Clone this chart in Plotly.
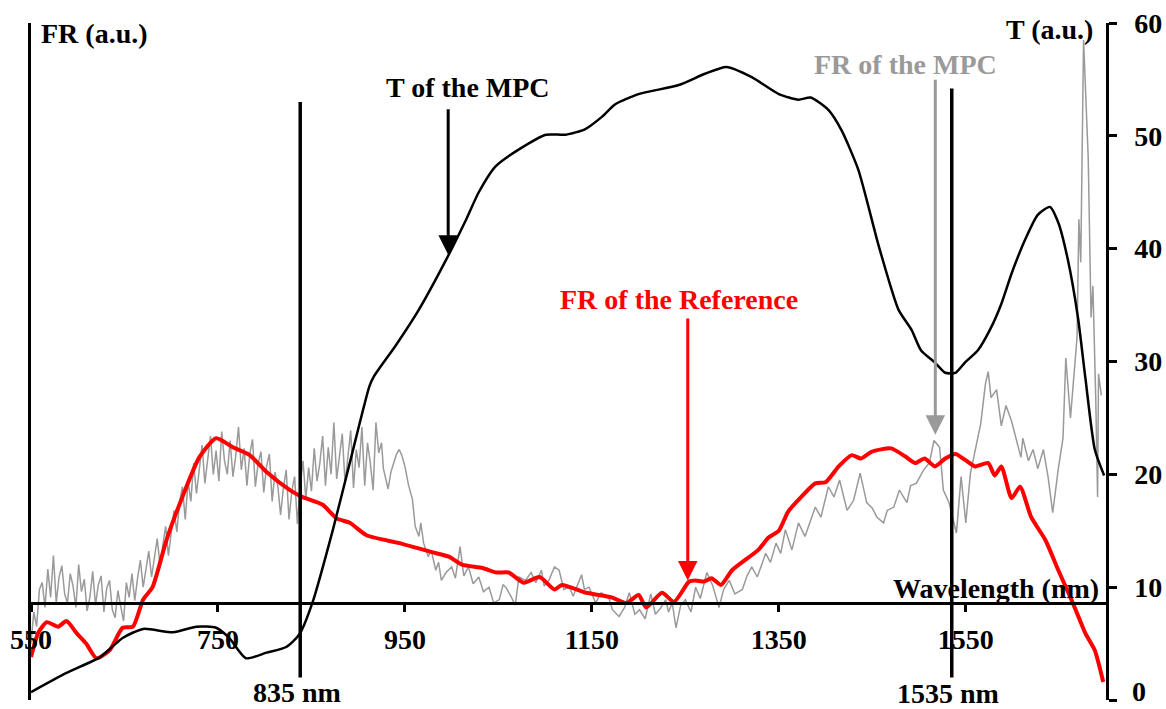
import numpy as np
import plotly.graph_objects as go

# ---------------- data ----------------
# Transmission of the MPC (T, right axis)
t_wl = [550, 588, 624, 648, 670, 702, 727, 748, 762, 780, 802, 823, 837, 851, 873, 891,
        912, 917, 940, 965, 994, 1015, 1029, 1047, 1072, 1101, 1122, 1143, 1161, 1175,
        1200, 1243, 1271, 1294, 1321, 1350, 1371, 1384, 1403, 1417, 1435, 1457, 1478,
        1492, 1502, 1517, 1528, 1539, 1549, 1563, 1577, 1588, 1599, 1614, 1627, 1640,
        1649, 1659, 1670, 1678, 1688, 1698]
t_val = [0.7, 2.4, 3.8, 5.5, 6.3, 6.0, 6.5, 6.4, 5.5, 3.7, 4.2, 4.7, 5.8, 8.6, 15.1, 21.0,
         27.8, 28.7, 31.4, 34.6, 39.0, 42.5, 45.0, 47.3, 48.8, 50.1, 50.1, 50.6, 51.7, 52.8,
         53.7, 54.5, 55.5, 56.1, 55.2, 53.7, 53.2, 53.4, 52.3, 50.5, 47.0, 40.2, 34.6,
         32.8, 31.0, 29.9, 29.0, 29.0, 29.9, 31.0, 33.0, 35.1, 37.8, 40.9, 43.0, 43.7,
         42.3, 39.1, 33.9, 28.5, 22.2, 19.9]

# FR of the reference (red)
ref_wl = [550, 558, 567, 579, 588, 599, 609, 620, 634, 648, 659, 670, 680, 695, 712, 730,
          748, 766, 784, 802, 827, 840, 862, 877, 891, 909, 944, 979, 997, 1011, 1033,
          1048, 1061, 1077, 1094, 1110, 1118, 1144, 1171, 1187, 1200, 1208, 1225, 1238,
          1254, 1261, 1270, 1278, 1288, 1300, 1328, 1339, 1350, 1360, 1374, 1389, 1400,
          1414, 1428, 1438, 1449, 1470, 1485, 1496, 1506, 1517, 1528, 1539, 1549, 1560,
          1574, 1581, 1588, 1599, 1608, 1620, 1635, 1649, 1663, 1678, 1688, 1697]
ref_val = [3.8, 6.0, 6.9, 6.5, 7.0, 5.9, 5.0, 3.7, 4.4, 6.4, 6.5, 8.9, 10.0, 14.2, 18.0, 21.5,
           23.2, 22.4, 21.7, 20.2, 18.6, 18.0, 17.3, 16.1, 15.7, 14.6, 13.9, 13.1, 12.7, 12.0, 11.7,
           11.3, 11.3, 10.4, 10.9, 9.8, 10.2, 9.5, 9.1, 8.6, 9.3, 8.2, 9.5, 8.7,
           10.5, 10.6, 10.5, 10.8, 10.2, 11.5, 13.3, 14.4, 15.0, 16.7, 18.0, 19.2, 19.3,
           20.7, 21.7, 21.4, 22.0, 22.3, 21.6, 21.0, 21.4, 20.7, 21.4, 21.8, 21.3, 20.7,
           21.0, 19.9, 20.7, 17.9, 18.9, 16.2, 14.2, 11.5, 8.9, 5.9, 4.4, 1.6]

# FR of the MPC (grey, noisy) - dense part sampled every 3 nm from 550 to 919 nm
mpc_dense_wl = list(np.arange(550, 920, 3))
mpc_dense_val = [
    5.0, 7.8, 6.5, 9.8, 10.4, 8.2, 11.6, 9.1, 12.8, 8.6, 10.9,
    11.9, 9.4, 8.6, 11.2, 10.1, 8.2, 12.0, 9.6, 10.7, 7.9, 9.1, 11.4, 8.4, 10.2, 11.0, 7.8, 9.9, 10.6, 8.0, 7.3,
    9.7, 8.3, 7.0, 10.4, 9.1, 11.2, 8.8, 10.8, 12.4, 10.0, 11.6, 13.2, 10.9, 12.5, 14.3, 12.0, 13.6, 15.4, 12.8, 14.6,
    16.8, 14.9, 17.6, 18.9, 16.0, 19.4, 17.6, 21.0, 18.3, 20.4, 22.6, 19.2, 21.5, 23.4, 20.0, 22.1, 19.4, 23.8, 21.2, 20.0,
    23.0, 19.8, 21.6, 24.2, 20.4, 22.3, 19.0, 21.8, 23.1, 18.9, 21.0, 22.0, 18.4, 20.7, 21.8, 17.6, 20.2, 19.0, 16.4, 18.8,
    20.4, 16.0, 18.5, 19.8, 15.6, 19.0, 21.2, 17.8, 20.6, 18.5, 22.3, 19.4, 21.0, 23.4, 19.0, 22.4, 20.0, 24.6, 19.6, 21.8,
    23.6, 19.2, 21.4, 23.9, 18.8, 22.2, 20.6, 24.2, 19.0, 22.8, 21.0, 18.6, 24.6]
mpc_tail_wl = [922, 925, 927, 932, 935, 938, 941, 944, 947, 950, 954, 958, 961, 965, 967, 970, 975, 978,
               983, 986, 989, 994, 1000, 1004, 1009, 1013, 1018, 1023, 1029, 1034, 1040, 1045, 1051,
               1055, 1058, 1064, 1068, 1072, 1079, 1085, 1090, 1096, 1099, 1104, 1110, 1115, 1120,
               1126, 1130, 1139, 1142, 1147, 1154, 1160, 1168, 1172, 1179, 1185, 1190, 1196, 1201,
               1207, 1213, 1218, 1224, 1229, 1232, 1236, 1240, 1245, 1250, 1256, 1261, 1266, 1273,
               1279, 1286, 1291, 1297, 1303, 1311, 1316, 1321, 1327, 1336, 1341, 1347, 1352, 1357,
               1364, 1371, 1378, 1389, 1395, 1403, 1409, 1415, 1423, 1430, 1437, 1444, 1450, 1455,
               1462, 1466, 1473, 1479, 1487, 1491, 1497, 1505, 1511, 1516, 1522, 1526, 1532, 1540,
               1545, 1550, 1555, 1561, 1566, 1571, 1574, 1577, 1583, 1588, 1593, 1599, 1604, 1609,
               1611, 1617, 1622, 1627, 1633, 1638, 1643, 1649, 1654, 1657, 1662, 1665, 1669, 1671,
               1673, 1676, 1681, 1684, 1686, 1689, 1691, 1692, 1695]
mpc_tail_val = [21.9, 22.8, 20.5, 18.7, 20.2, 21.0, 21.8, 22.2, 21.6, 20.7, 19.0, 17.8, 15.4, 14.5, 15.7, 13.9, 12.7, 13.3,
                11.5, 12.2, 10.6, 11.3, 11.8, 10.8, 13.6, 11.0, 11.8, 10.3, 10.9, 9.6, 10.0, 8.6, 8.9,
                10.2, 10.0, 9.1, 8.4, 10.9, 10.6, 11.3, 10.4, 11.5, 10.1, 10.6, 11.8, 11.5, 9.8,
                10.0, 9.2, 11.1, 9.8, 10.0, 8.6, 9.5, 9.1, 8.0, 7.4, 8.2, 9.5, 7.6, 8.0,
                7.2, 9.4, 7.6, 8.2, 8.9, 7.8, 8.6, 6.4, 8.4, 8.9, 7.8, 10.0, 9.0, 11.3,
                10.2, 8.2, 9.8, 10.6, 9.4, 9.8, 11.0, 11.8, 10.9, 13.0, 12.2, 13.9, 13.0, 15.1,
                13.3, 15.7, 14.5, 17.1, 16.2, 18.9, 18.0, 19.5, 16.8, 17.7, 20.1, 17.5, 17.0, 16.2,
                15.7, 16.8, 17.1, 18.6, 17.5, 19.0, 19.2, 20.4, 21.0, 23.0, 22.4, 18.6, 17.5, 14.8,
                19.8, 15.7, 20.1, 22.4, 24.5, 28.0, 29.1, 26.8, 27.5, 24.3, 26.1, 24.7, 23.2, 21.5,
                23.2, 21.2, 22.2, 20.5, 22.2, 19.8, 16.6, 20.5, 23.2, 30.3, 25.0, 28.2, 32.1, 42.6,
                38.8, 58.5, 48.0, 33.9, 36.7, 26.8, 18.0, 28.9, 27.0]

x_ticks = [550, 750, 950, 1150, 1350, 1550]
t_ticks = [0, 10, 20, 30, 40, 50, 60]
marker_wl = [838, 1535]
marker_top = [53.0, 54.2]
marker_labels = ["835 nm", "1535 nm"]

# ---------------- figure ----------------
FONT = "Liberation Serif"
GREY = "#9a9a9a"

fig = go.Figure()
fig.add_trace(go.Scatter(x=mpc_dense_wl + mpc_tail_wl, y=mpc_dense_val + mpc_tail_val,
                         mode="lines", line=dict(color=GREY, width=1.5), yaxis="y"))
fig.add_trace(go.Scatter(x=t_wl, y=t_val, mode="lines",
                         line=dict(color="black", width=2.5, shape="spline", smoothing=0.6),
                         yaxis="y2"))
fig.add_trace(go.Scatter(x=ref_wl, y=ref_val, mode="lines",
                         line=dict(color="#ff0000", width=4, shape="spline", smoothing=0.6),
                         yaxis="y"))

for wl, top in zip(marker_wl, marker_top):
    fig.add_shape(type="line", xref="x", yref="y", x0=wl, x1=wl, y0=2.0, y1=top,
                  line=dict(color="black", width=3.5), layer="above")

tfont = dict(family=FONT, size=28, color="black", weight="bold")

ann = []
def txt(text, x, y, xanchor="center", color="black", size=28, xshift=0, yshift=0):
    ann.append(dict(text=text, x=x, y=y, xref="x", yref="y", xanchor=xanchor,
                    yanchor="middle", showarrow=False, xshift=xshift, yshift=yshift,
                    font=dict(family=FONT, size=size, color=color, weight="bold")))

txt("FR (a.u.)", 558.6, 59.1, xanchor="left")
txt("T (a.u.)", 1688, 59.4, xanchor="right")
txt("FR of the MPC", 1485, 56.3, color=GREY)
txt("T of the MPC", 1017.7, 54.3)
txt("FR of the Reference", 1243, 35.5, color="#ff0000")
txt("Wavelength (nm)", 1695, 9.9, xanchor="right")
txt(marker_labels[0], 835, 0.7)
txt(marker_labels[1], 1531, 0.55)
# bottom tick label of the right axis (plotly drops it because it touches the page edge)
txt(str(t_ticks[0]), 1700, t_ticks[0], xanchor="left", xshift=24, yshift=9)

def arrow(x, y_tip, y_tail, color):
    ann.append(dict(text="", x=x, y=y_tip, ax=x, ay=y_tail, xref="x", yref="y",
                    axref="x", ayref="y", showarrow=True, arrowhead=2, arrowsize=1.3,
                    arrowwidth=3, arrowcolor=color, standoff=0, startstandoff=0))

arrow(996.3, 39.45, 52.5, "black")
arrow(1252.6, 10.6, 33.95, "#ff0000")
arrow(1517.4, 23.5, 55.1, GREY)

fig.update_layout(
    width=1166, height=709,
    margin=dict(l=31, r=60, t=23, b=9),
    paper_bgcolor="white", plot_bgcolor="white",
    showlegend=False,
    annotations=ann,
    xaxis=dict(range=[550, 1700], anchor="free", position=0.1433,
               showline=True, linecolor="black", linewidth=2.5,
               ticks="outside", ticklen=7, tickwidth=2.5, tickcolor="black",
               tickvals=x_ticks, ticktext=[str(v) for v in x_ticks],
               tickfont=tfont, ticklabelstandoff=4,
               showgrid=False, zeroline=False, automargin=False),
    yaxis=dict(range=[0, 60], domain=[0, 1], showline=True, linecolor="black",
               linewidth=2.5, ticks="", showticklabels=False, showgrid=False,
               zeroline=False, automargin=False),
    yaxis2=dict(range=[0, 60], overlaying="y", side="right", anchor="x",
                showline=True, linecolor="black", linewidth=2.5,
                ticks="outside", ticklen=8, tickwidth=2.5, tickcolor="black",
                tickvals=t_ticks, tickfont=tfont, ticklabelstandoff=12,
                showgrid=False, zeroline=False, automargin=False),
    yaxis3=dict(range=[0, 60], overlaying="y", side="right", anchor="x",
                showline=False, ticks="inside", ticklen=8, tickwidth=2.5,
                tickcolor="black", tickvals=t_ticks, showticklabels=False,
                showgrid=False, zeroline=False, automargin=False),
)

fig.write_html("out.html", config={"displayModeBar": False},
               post_script="document.body.style.margin='0';document.body.style.overflow='hidden';")
